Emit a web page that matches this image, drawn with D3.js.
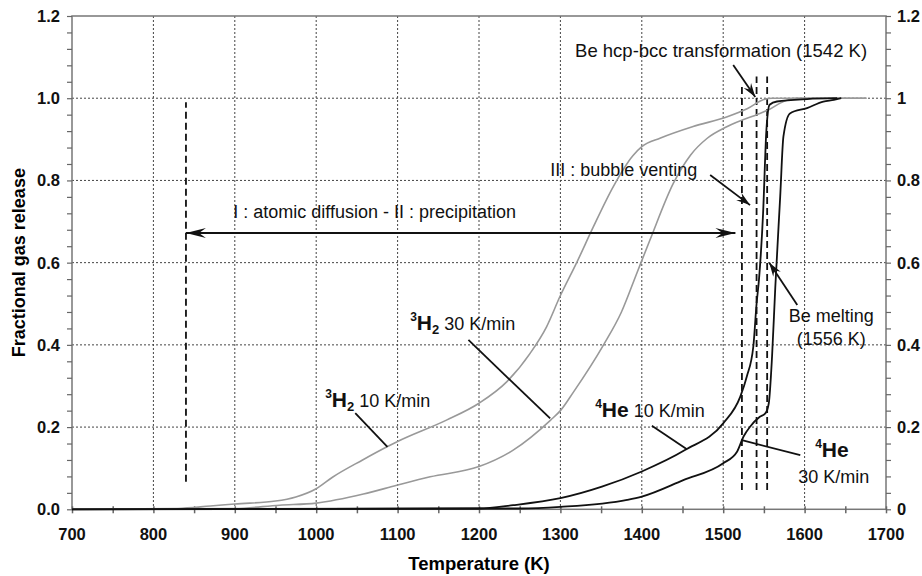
<!DOCTYPE html>
<html>
<head>
<meta charset="utf-8">
<script src="https://cdn.jsdelivr.net/npm/d3@7"></script>
<style>
  body { margin: 0; background: #fff; }
  svg { font-family: "Liberation Sans", Arial, sans-serif; }
  .tick-label { font-size: 16.5px; font-weight: bold; fill: #111; }
  .note { font-size: 18px; fill: #111; }
</style>
</head>
<body>
<div id="chart"></div>
<script>
// Series: [temperature (K), fractional release]
var h2Slow = [[700, 0], [830, 0.002], [870, 0.008], [900, 0.013], [950, 0.02], [975, 0.03],
    [1000, 0.05], [1020, 0.078], [1057, 0.12], [1087, 0.152], [1100, 0.165], [1160, 0.217],
    [1200, 0.258], [1234, 0.31], [1263, 0.38], [1283, 0.444], [1300, 0.52], [1320, 0.6],
    [1340, 0.685], [1365, 0.785], [1389, 0.86], [1400, 0.882], [1423, 0.903], [1463, 0.931],
    [1505, 0.955], [1530, 0.975], [1550, 0.997], [1560, 1.0], [1676, 1.0]];

var h2Fast = [[700, 0], [900, 0.002], [955, 0.01], [1000, 0.015], [1058, 0.037], [1100, 0.059],
    [1140, 0.079], [1200, 0.104], [1242, 0.144], [1288, 0.217], [1300, 0.24], [1316, 0.285],
    [1353, 0.4], [1375, 0.48], [1394, 0.575], [1410, 0.655], [1439, 0.794], [1460, 0.862],
    [1480, 0.902], [1505, 0.931], [1545, 0.963], [1556, 0.972], [1574, 0.992], [1590, 1.0],
    [1676, 1.0]];

var heSlow = [[700, 0], [1200, 0.002], [1242, 0.01], [1300, 0.027], [1351, 0.055], [1400, 0.092],
    [1453, 0.144], [1500, 0.209], [1521, 0.274], [1529, 0.323], [1537, 0.396], [1541, 0.5],
    [1544, 0.56], [1549, 0.72], [1553, 0.92], [1557, 0.984], [1566, 0.992], [1603, 0.998],
    [1640, 1.0]];

var heFast = [[700, 0], [1250, 0.002], [1300, 0.006], [1382, 0.023], [1400, 0.031], [1451, 0.071],
    [1500, 0.112], [1517, 0.14], [1525, 0.177], [1533, 0.201], [1545, 0.225], [1552, 0.234],
    [1556, 0.258], [1560, 0.371], [1564, 0.54], [1570, 0.76], [1574, 0.907], [1582, 0.963],
    [1603, 0.976], [1623, 0.992], [1636, 0.996], [1645, 1.0]];

var xTicks = [700, 800, 900, 1000, 1100, 1200, 1300, 1400, 1500, 1600, 1700];
var yTicks = [0, 0.2, 0.4, 0.6, 0.8, 1.0, 1.2];
var yLeftLabels = ["0.0", "0.2", "0.4", "0.6", "0.8", "1.0", "1.2"];
var yRightLabels = ["0", "0.2", "0.4", "0.6", "0.8", "1", "1.2"];

// dashed markers: [T, fBottom, fTop]
var markLines = [[840, 0.067, 0.99], [1523, 0.047, 1.033], [1541, 0.047, 1.053], [1554, 0.047, 1.053]];

var width = 922,
    height = 576,
    plotL = 72, plotR = 886, plotT = 16, plotB = 509.3;

var svg = d3.select("#chart").append("svg")
    .attr("width", width)
    .attr("height", height);

var x = d3.scaleLinear().domain([700, 1700]).range([plotL, plotR]);
var y = d3.scaleLinear().domain([0, 1.2]).range([plotB, plotT]);

// arrow heads
var defs = svg.append("defs");
function arrowMarker(id, len, half) {
    defs.append("marker")
        .attr("id", id)
        .attr("markerUnits", "userSpaceOnUse")
        .attr("viewBox", (-len - 1) + " " + (-half - 1) + " " + (len + 2) + " " + (half * 2 + 2))
        .attr("refX", 0).attr("refY", 0)
        .attr("markerWidth", len + 2).attr("markerHeight", half * 2 + 2)
        .attr("orient", "auto-start-reverse")
        .append("path")
        .attr("d", "M0,0L" + (-len) + "," + (-half) + "L" + (-len * 0.65) + ",0L" + (-len) + "," + half + "Z")
        .attr("fill", "#111");
}
arrowMarker("big", 20, 5);
arrowMarker("small", 14, 4.5);

// gridlines
svg.append("g").selectAll("line")
    .data(xTicks.slice(1, -1))
    .enter().append("line")
    .attr("x1", d => x(d)).attr("x2", d => x(d))
    .attr("y1", plotT).attr("y2", plotB)
    .attr("stroke", "#444").attr("stroke-width", 1).attr("stroke-dasharray", "2,2");

svg.append("g").selectAll("line")
    .data(yTicks.slice(1, -1))
    .enter().append("line")
    .attr("x1", plotL).attr("x2", plotR)
    .attr("y1", d => y(d)).attr("y2", d => y(d))
    .attr("stroke", "#444").attr("stroke-width", 1).attr("stroke-dasharray", "2,2");

// frame
svg.append("rect")
    .attr("x", plotL).attr("y", plotT)
    .attr("width", plotR - plotL).attr("height", plotB - plotT)
    .attr("fill", "none").attr("stroke", "#777").attr("stroke-width", 1.5);

// axes
var xAxis = d3.axisBottom(x).tickValues(d3.range(700, 1701, 50)).tickSize(4).tickFormat("");
svg.append("g").attr("transform", "translate(0," + (plotB - 3) + ")").call(xAxis)
    .call(g => g.select(".domain").remove())
    .call(g => g.selectAll("line").attr("stroke", "#666").attr("stroke-width", 1.5).attr("y2", 7));

var yMinor = d3.range(0, 1.2001, 0.04);
svg.append("g").attr("transform", "translate(" + plotL + ",0)")
    .call(d3.axisLeft(y).tickValues(yMinor).tickSize(5).tickFormat(""))
    .call(g => g.select(".domain").remove())
    .call(g => g.selectAll("line").attr("stroke", "#666").attr("stroke-width", 1.2));

svg.append("g").attr("transform", "translate(" + plotR + ",0)")
    .call(d3.axisRight(y).tickValues(yMinor).tickSize(5).tickFormat(""))
    .call(g => g.select(".domain").remove())
    .call(g => g.selectAll("line").attr("stroke", "#666").attr("stroke-width", 1.2));

svg.append("g").selectAll("text")
    .data(xTicks)
    .enter().append("text")
    .attr("class", "tick-label")
    .attr("x", d => x(d)).attr("y", 540)
    .attr("text-anchor", "middle")
    .text(d => d);

svg.append("g").selectAll("text")
    .data(yTicks)
    .enter().append("text")
    .attr("class", "tick-label")
    .attr("x", plotL - 12).attr("y", d => y(d)).attr("dy", "0.36em")
    .attr("text-anchor", "end")
    .text((d, i) => yLeftLabels[i]);

svg.append("g").selectAll("text")
    .data(yTicks)
    .enter().append("text")
    .attr("class", "tick-label")
    .attr("x", plotR + 11).attr("y", d => y(d)).attr("dy", "0.36em")
    .text((d, i) => yRightLabels[i]);

// axis titles
svg.append("text")
    .attr("x", (plotL + plotR) / 2).attr("y", 570)
    .attr("text-anchor", "middle")
    .style("font-size", "18.5px").style("font-weight", "bold")
    .text("Temperature (K)");

svg.append("text")
    .attr("transform", "translate(25," + ((plotT + plotB) / 2) + ") rotate(-90)")
    .attr("text-anchor", "middle")
    .style("font-size", "18px").style("font-weight", "bold")
    .text("Fractional gas release");

// dashed vertical markers
svg.append("g").selectAll("line")
    .data(markLines)
    .enter().append("line")
    .attr("x1", d => x(d[0])).attr("x2", d => x(d[0]))
    .attr("y1", d => y(d[1])).attr("y2", d => y(d[2]))
    .attr("stroke", "#111").attr("stroke-width", 1.8).attr("stroke-dasharray", "7,4");

// curves
var line = d3.line()
    .x(d => x(d[0]))
    .y(d => y(d[1]))
    .curve(d3.curveMonotoneX);

[[h2Slow, "#999", 1.6], [h2Fast, "#999", 1.6], [heSlow, "#111", 1.8], [heFast, "#111", 1.8]]
    .forEach(function (s) {
        svg.append("path")
            .datum(s[0])
            .attr("d", line)
            .attr("fill", "none")
            .attr("stroke", s[1])
            .attr("stroke-width", s[2]);
    });

// pointer lines: [T1, f1, T2, f2, arrow]
var pointers = [
    [1048, 0.234, 1087.5, 0.152, null],
    [1187, 0.412, 1287.4, 0.221, null],
    [1412.4, 0.203, 1455.4, 0.146, null],
    [1523, 0.168, 1594.7, 0.132, null],
    [1512.3, 1.081, 1539.4, 1.003, "small"],
    [1484, 0.813, 1533, 0.74, "small"],
    [1591, 0.497, 1556.6, 0.60, "small"]
];
svg.append("g").selectAll("line")
    .data(pointers)
    .enter().append("line")
    .attr("x1", d => x(d[0])).attr("y1", d => y(d[1]))
    .attr("x2", d => x(d[2])).attr("y2", d => y(d[3]))
    .attr("stroke", "#111").attr("stroke-width", 1.8)
    .attr("marker-end", d => d[4] ? "url(#" + d[4] + ")" : null);

// double arrow for stages I-II
svg.append("line")
    .attr("x1", x(840)).attr("x2", x(1515))
    .attr("y1", y(0.672)).attr("y2", y(0.672))
    .attr("stroke", "#111").attr("stroke-width", 2)
    .attr("marker-start", "url(#big)")
    .attr("marker-end", "url(#big)");

// annotations
function note(t, f, str, anchor) {
    return svg.append("text").attr("class", "note")
        .attr("x", x(t)).attr("y", y(f))
        .attr("text-anchor", anchor || "start")
        .text(str);
}
note(898, 0.709, "I : atomic diffusion - II : precipitation");
note(1318, 1.1, "Be hcp-bcc transformation (1542 K)").style("font-size", "18.5px");
note(1287.4, 0.811, "III : bubble venting");
note(1632.8, 0.456, "Be melting", "middle");
note(1632.8, 0.4, "(1556 K)", "middle");
note(1592.2, 0.064, "30 K/min");

function species(t, f, mass, sym, sub, rest) {
    var txt = svg.append("text").attr("class", "note")
        .attr("x", x(t)).attr("y", y(f));
    txt.append("tspan").text(mass)
        .style("font-size", "12px").style("font-weight", "bold").attr("dy", -9);
    txt.append("tspan").text(sym)
        .style("font-size", "21px").style("font-weight", "bold").attr("dy", 9);
    if (sub) {
        txt.append("tspan").text(sub)
            .style("font-size", "13px").style("font-weight", "bold").attr("dy", 4);
    }
    if (rest) {
        txt.append("tspan").text(rest)
            .style("font-size", "18px").attr("dy", sub ? -4 : 0);
    }
}
species(1011, 0.25, "3", "H", "2", " 10 K/min");
species(1115.4, 0.436, "3", "H", "2", " 30 K/min");
species(1342.7, 0.225, "4", "He", null, " 10 K/min");
species(1613, 0.128, "4", "He", null, null);
</script>
</body>
</html>
